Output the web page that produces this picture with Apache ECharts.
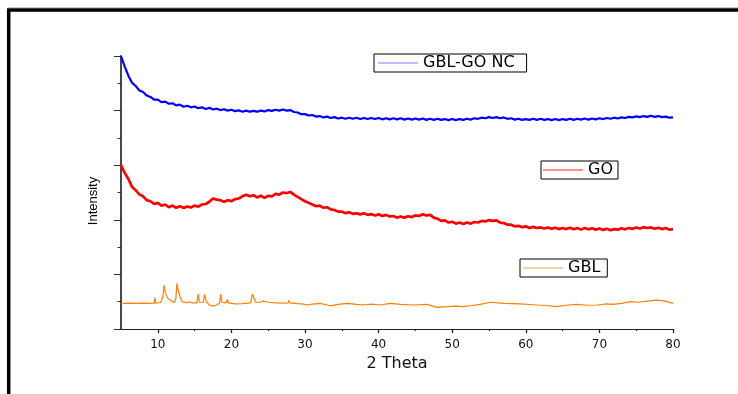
<!DOCTYPE html>
<html><head><meta charset="utf-8">
<script src="https://cdn.jsdelivr.net/npm/echarts@6/dist/echarts.min.js"></script>
<style>html,body{margin:0;padding:0;background:#fff}#c{width:738px;height:394px}</style>
</head><body><div id="c"></div>
<script>
const thetaGrid = [5.0,5.5,6.0,6.5,7.0,7.5,8.0,8.5,9.0,9.5,10.0,10.5,11.0,11.5,12.0,12.5,13.0,13.5,14.0,14.5,15.0,15.5,16.0,16.5,17.0,17.5,18.0,18.5,19.0,19.5,20.0,20.5,21.0,21.5,22.0,22.5,23.0,23.5,24.0,24.5,25.0,25.5,26.0,26.5,27.0,27.5,28.0,28.5,29.0,29.5,30.0,30.5,31.0,31.5,32.0,32.5,33.0,33.5,34.0,34.5,35.0,35.5,36.0,36.5,37.0,37.5,38.0,38.5,39.0,39.5,40.0,40.5,41.0,41.5,42.0,42.5,43.0,43.5,44.0,44.5,45.0,45.5,46.0,46.5,47.0,47.5,48.0,48.5,49.0,49.5,50.0,50.5,51.0,51.5,52.0,52.5,53.0,53.5,54.0,54.5,55.0,55.5,56.0,56.5,57.0,57.5,58.0,58.5,59.0,59.5,60.0,60.5,61.0,61.5,62.0,62.5,63.0,63.5,64.0,64.5,65.0,65.5,66.0,66.5,67.0,67.5,68.0,68.5,69.0,69.5,70.0,70.5,71.0,71.5,72.0,72.5,73.0,73.5,74.0,74.5,75.0,75.5,76.0,76.5,77.0,77.5,78.0,78.5,79.0,79.5,80.0];

const ncValues = [10.0,9.62,9.28,9.02,8.90,8.74,8.68,8.55,8.50,8.40,8.40,8.31,8.33,8.25,8.27,8.19,8.22,8.14,8.18,8.12,8.15,8.09,8.12,8.06,8.10,8.04,8.07,8.02,8.05,8.00,8.03,7.98,8.01,7.96,8.00,7.96,7.99,7.96,8.00,7.97,8.02,7.99,8.03,8.00,8.04,8.00,8.02,7.95,7.93,7.87,7.87,7.82,7.84,7.78,7.80,7.75,7.78,7.73,7.76,7.71,7.74,7.70,7.74,7.70,7.74,7.69,7.73,7.69,7.73,7.69,7.73,7.68,7.72,7.68,7.72,7.68,7.72,7.67,7.71,7.67,7.71,7.67,7.71,7.66,7.70,7.66,7.70,7.66,7.69,7.65,7.69,7.65,7.69,7.66,7.70,7.67,7.72,7.70,7.74,7.72,7.76,7.73,7.76,7.72,7.75,7.70,7.72,7.67,7.70,7.66,7.69,7.66,7.70,7.66,7.70,7.66,7.69,7.65,7.69,7.65,7.69,7.66,7.70,7.66,7.70,7.67,7.71,7.67,7.71,7.68,7.72,7.69,7.73,7.70,7.74,7.71,7.75,7.73,7.77,7.75,7.79,7.76,7.80,7.77,7.81,7.77,7.80,7.76,7.78,7.74,7.75];

const goValues = [6.00,5.72,5.50,5.20,5.08,4.93,4.86,4.72,4.68,4.58,4.62,4.52,4.56,4.46,4.52,4.44,4.50,4.43,4.49,4.45,4.52,4.48,4.56,4.58,4.66,4.78,4.74,4.72,4.66,4.72,4.68,4.76,4.78,4.86,4.92,4.86,4.90,4.82,4.88,4.80,4.88,4.86,4.95,4.92,5.00,4.98,5.02,4.92,4.84,4.76,4.68,4.62,4.56,4.50,4.52,4.44,4.46,4.38,4.36,4.30,4.30,4.24,4.28,4.22,4.24,4.20,4.24,4.18,4.21,4.16,4.20,4.14,4.18,4.12,4.14,4.08,4.12,4.08,4.13,4.10,4.16,4.14,4.20,4.16,4.18,4.08,4.04,3.96,3.98,3.90,3.93,3.86,3.90,3.85,3.90,3.86,3.92,3.90,3.96,3.94,3.99,3.96,3.98,3.90,3.88,3.82,3.82,3.76,3.78,3.73,3.76,3.70,3.74,3.70,3.72,3.68,3.72,3.67,3.71,3.66,3.70,3.66,3.71,3.65,3.70,3.64,3.70,3.65,3.69,3.64,3.68,3.63,3.67,3.62,3.66,3.64,3.69,3.65,3.70,3.67,3.72,3.68,3.73,3.70,3.72,3.67,3.71,3.66,3.70,3.64,3.66];

const gblTheta = [5,6,7,8,9,9.5,9.6,9.7,10.4,10.7,10.85,11.0,11.3,11.7,12.2,12.45,12.6,12.75,13.0,13.3,14.0,14.3,14.6,15.3,15.5,15.65,16.2,16.35,16.6,17.0,17.5,18.0,18.4,18.55,18.7,19.3,19.45,19.6,20.5,21.5,22.6,22.85,23.05,23.3,24.0,24.3,25,26,27,27.7,27.8,27.9,29,29.6,30.3,31,32,33,33.4,34.5,35.7,37,37.9,39,40.2,41.6,43,44.7,46.6,47.9,49.3,50.5,51.5,52.7,53.8,55.2,57,59.2,61.5,62.8,64.2,65.5,66.9,68.3,69.7,71,71.9,73,74.2,75.3,76.5,77.8,78.8,80];

const gblValues = [0.93,0.95,0.94,0.95,0.94,0.95,1.15,0.95,0.97,1.2,1.61,1.35,1.15,1.05,0.97,1.1,1.67,1.45,1.2,1.0,0.96,1.0,0.96,0.96,1.28,0.98,0.98,1.27,1.0,0.88,0.84,0.88,0.95,1.28,0.98,0.96,1.08,0.96,0.92,0.93,0.96,1.28,1.28,0.98,0.98,1.02,0.98,0.96,0.95,0.96,1.05,0.96,0.93,0.92,0.88,0.91,0.94,0.88,0.85,0.9,0.94,0.9,0.88,0.91,0.88,0.94,0.9,0.88,0.9,0.79,0.82,0.84,0.82,0.86,0.9,0.98,0.94,0.92,0.88,0.86,0.82,0.87,0.9,0.87,0.88,0.92,0.9,0.94,1.0,0.98,1.02,1.06,1.03,0.94];

const xLabelTicks = [10,20,30,40,50,60,70,80];
const xMinorTicks = [15,25,35,45,55,65,75];
const seriesNames = ['GBL-GO NC','GO','GBL'];
const seriesColors = ['#0000ff','#ff0000','#ff8000'];
const legendLineColors = ['#8080ff','#ff2020','#ffa040'];

function pairs(xs, ys){ return xs.map(function(x,i){ return [x, ys[i]]; }); }

const chart = echarts.init(document.getElementById('c'), null, {renderer:'canvas'});

function legendFor(idx, left, top, padding){
  return {
    data:[{name:seriesNames[idx], icon:'path://M0,0H40V1H0Z', itemStyle:{color:legendLineColors[idx], opacity:1}}],
    left:left, top:top, padding:padding, orient:'horizontal',
    itemWidth:40, itemHeight:14, itemGap:0,
    borderColor:'#000', borderWidth:1, backgroundColor:'#fff',
    selectedMode:false,
    itemStyle:{opacity:1, borderWidth:0},
    textStyle:{fontFamily:'DejaVu Sans', fontSize:16, color:'#000'}
  };
}

function lineSeries(name, data, color, width){
  return {name:name, type:'line', data:data, symbol:'none', showSymbol:false,
    clip:false, color:color,
    lineStyle:{width:width, color:color}, emphasis:{disabled:true}};
}

const option = {
  animation:false,
  backgroundColor:'#fff',
  grid:{left:121, right:65, top:56, bottom:65, containLabel:false},
  xAxis:[
    {type:'value', min:5, max:80, interval:5,
     axisLine:{lineStyle:{color:'#222', width:1}},
     axisTick:{customValues:xLabelTicks, length:4, lineStyle:{color:'#222', width:1.3}},
     axisLabel:{customValues:xLabelTicks, margin:10, fontFamily:'DejaVu Sans', fontSize:12, color:'#111'},
     splitLine:{show:false},
     name:'2 Theta', nameLocation:'middle', nameGap:25,
     nameTextStyle:{fontFamily:'DejaVu Sans', fontSize:16, color:'#111'}},
    {type:'value', min:5, max:80, interval:5, position:'bottom',
     axisLine:{show:false},
     axisTick:{customValues:xMinorTicks, length:2, lineStyle:{color:'#222', width:1.3}},
     axisLabel:{show:false}, splitLine:{show:false}}
  ],
  yAxis:{type:'value', min:0, max:10, interval:2,
     axisLine:{show:true, lineStyle:{color:'#333', width:1.8}},
     axisTick:{show:true, length:7, lineStyle:{color:'#333', width:1}},
     minorTick:{show:true, splitNumber:2, length:3.5, lineStyle:{color:'#333', width:1}},
     axisLabel:{show:false}, splitLine:{show:false}, minorSplitLine:{show:false}},
  legend:[
    legendFor(0, 374, 54, [1,12,1,4]),
    legendFor(1, 541, 161, [1,5,1,2]),
    legendFor(2, 520, 259, [1,7,1,3])
  ],
  graphic:[
    {type:'line', silent:true, shape:{x1:8, y1:7.5, x2:738, y2:7.5}, style:{stroke:'#c8c8c8', lineWidth:1}},
    {type:'rect', silent:true, shape:{x:8.7, y:10, width:1000, height:1000}, style:{fill:'none', stroke:'#000', lineWidth:3.5}},
    {type:'text', silent:true, x:93, y:201, rotation:Math.PI/2,
     style:{text:'Intensity', font:'13px "Liberation Sans", Arial, sans-serif', fill:'#000', align:'center', verticalAlign:'middle'}}
  ],
  series:[
    lineSeries(seriesNames[0], pairs(thetaGrid, ncValues), seriesColors[0], 2.2),
    lineSeries(seriesNames[1], pairs(thetaGrid, goValues), seriesColors[1], 2.7),
    lineSeries(seriesNames[2], pairs(gblTheta, gblValues), seriesColors[2], 1.2)
  ]
};
chart.setOption(option);
</script>
</body></html>
